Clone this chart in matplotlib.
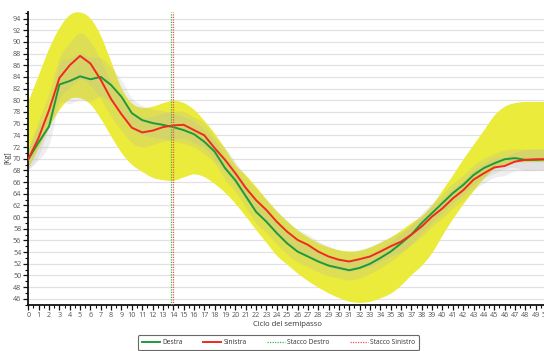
import matplotlib
matplotlib.use("Agg")
import matplotlib.pyplot as plt
import numpy as np
from matplotlib.ticker import MultipleLocator

# ---- data ----
cycle = list(range(0, 51))

destra = [69.9, 72.8, 75.5, 82.7, 83.3, 84.1, 83.6, 84.0, 82.6, 80.6,
          77.8, 76.6, 76.1, 75.8, 75.4, 74.9, 74.2, 72.9, 71.2, 68.4,
          66.3, 63.6, 60.9, 59.2, 57.25, 55.5, 54.1, 53.25, 52.4, 51.7,
          51.3, 50.9, 51.3, 52.0, 53.0, 54.1, 55.5, 57.0, 59.0, 60.7,
          62.4, 64.1, 65.5, 67.2, 68.4, 69.2, 69.9, 70.1, 69.8, 69.8, 69.9]

sinistra = [69.9, 73.6, 78.3, 83.8, 86.0, 87.6, 86.3, 83.5, 80.2, 77.6,
            75.3, 74.5, 74.8, 75.4, 75.7, 75.8, 74.9, 74.0, 71.8, 69.8,
            67.5, 65.0, 62.9, 61.2, 59.2, 57.5, 56.1, 55.25, 54.1, 53.25,
            52.7, 52.4, 52.8, 53.25, 54.1, 55.0, 55.8, 57.0, 58.4, 60.1,
            61.5, 63.2, 64.6, 66.4, 67.5, 68.5, 68.75, 69.5, 69.8, 69.9, 69.9]

norm_upper = [80.0, 84.5, 89.0, 92.5, 94.7, 95.1, 94.0, 91.0, 86.5, 82.0,
              79.5, 78.8, 79.0, 79.6, 80.0, 79.6, 78.4, 76.5, 74.3, 71.7,
              69.0, 67.2, 65.2, 63.0, 61.0, 59.3, 57.8, 56.6, 55.6, 54.9,
              54.4, 54.2, 54.3, 54.9, 55.7, 56.6, 57.8, 59.1, 60.3, 62.2,
              64.7, 67.3, 70.0, 72.5, 75.0, 77.5, 79.0, 79.6, 79.8, 79.8, 79.8]

norm_lower = [68.5, 72.0, 75.5, 78.5, 80.3, 80.4, 79.3, 76.8, 73.8, 71.0,
              69.0, 67.8, 66.8, 66.4, 66.3, 66.9, 67.4, 66.9, 65.7, 64.2,
              62.3, 60.1, 57.8, 55.6, 53.4, 51.9, 50.4, 49.1, 48.0, 47.0,
              46.2, 45.6, 45.4, 45.6, 46.2, 47.0, 48.4, 50.2, 51.8, 54.0,
              57.0, 59.8, 62.3, 64.6, 66.7, 68.3, 69.1, 69.4, 69.5, 69.5, 69.5]

sd_band = [1.8, 3.0, 3.0, 3.5, 3.9, 4.0, 3.8, 3.3, 3.0, 2.8,
           2.6, 2.5, 2.4, 2.4, 2.4, 2.3, 2.2, 2.1, 2.0, 2.0,
           2.0, 2.0, 2.0, 1.9, 1.9, 1.9, 1.8, 1.8, 1.8, 1.8,
           1.7, 1.7, 1.7, 1.7, 1.7, 1.7, 1.7, 1.7, 1.7, 1.7,
           1.7, 1.7, 1.7, 1.7, 1.7, 1.7, 1.6, 1.6, 1.8, 1.8, 1.8]

stacco_destro = 13.8
stacco_sinistro = 14.0


def smooth(xs, ys, n=10):
    """Catmull-Rom curve through the given points (for drawing only)."""
    xs = np.asarray(xs, float)
    ys = np.asarray(ys, float)
    p = np.concatenate([[2 * ys[0] - ys[1]], ys, [2 * ys[-1] - ys[-2]]])
    xo, yo = [], []
    for i in range(len(xs) - 1):
        t = np.linspace(0, 1, n, endpoint=False)
        p0, p1, p2, p3 = p[i], p[i + 1], p[i + 2], p[i + 3]
        y = 0.5 * ((2 * p1) + (-p0 + p2) * t + (2 * p0 - 5 * p1 + 4 * p2 - p3) * t ** 2
                   + (-p0 + 3 * p1 - 3 * p2 + p3) * t ** 3)
        xo.append(xs[i] + t * (xs[i + 1] - xs[i]))
        yo.append(y)
    xo.append([xs[-1]])
    yo.append([ys[-1]])
    return np.concatenate(xo), np.concatenate(yo)


# ---- figure ----
plt.rcParams['font.family'] = ['Open Sans', 'DejaVu Sans']
fig = plt.figure(figsize=(5.44, 3.51), dpi=100)
ax = fig.add_axes([28.3 / 544, 46.3 / 351, (546 - 28.3) / 544, (304.7 - 11.5) / 351])

x = np.array(cycle, dtype=float)
d = np.array(destra)
s = np.array(sinistra)
sd = np.array(sd_band)

xf, up = smooth(x, norm_upper)
_, lo = smooth(x, norm_lower)
ax.fill_between(xf, lo, up, color='#ebeb3b', lw=0, zorder=1)

_, dsm = smooth(x, d)
_, ssm = smooth(x, s)
_, sdsm = smooth(x, sd)
ax.fill_between(xf, dsm - sdsm, dsm + sdsm, color='#b4b4b4', alpha=0.22, lw=0, zorder=2)
ax.fill_between(xf, ssm - sdsm, ssm + sdsm, color='#b4b4b4', alpha=0.22, lw=0, zorder=2)

ax.plot(x, d, color='#1e9a3c', lw=1.4, zorder=4, label='Destra')
ax.plot(x, s, color='#f02a1e', lw=1.4, zorder=4, label='Sinistra')
ax.axvline(stacco_destro, color='#44b844', lw=0.9, ls=(0, (1, 1)), zorder=5, label='Stacco Destro')
ax.axvline(stacco_sinistro, color='#f05050', lw=0.9, ls=(0, (1, 1)), zorder=5, label='Stacco Sinistro')

ax.set_xlim(0, 50)
ax.set_ylim(45, 95.2)

ax.xaxis.set_major_locator(MultipleLocator(1))
ax.xaxis.set_minor_locator(MultipleLocator(0.5))
ax.yaxis.set_minor_locator(MultipleLocator(1))
ax.set_yticks(np.arange(46, 95, 2))

ax.grid(axis='y', which='major', color='#e2e2e2', lw=0.9, zorder=0)
ax.set_axisbelow(True)

for sp in ['top', 'right']:
    ax.spines[sp].set_visible(False)
for sp in ['left', 'bottom']:
    ax.spines[sp].set_color('#111111')
    ax.spines[sp].set_linewidth(1.3)

ax.tick_params(axis='both', which='major', labelsize=5.2, colors='#111111',
               labelcolor='#555555', length=3.5, width=0.9, pad=1.5)
ax.tick_params(axis='both', which='minor', colors='#111111', length=2, width=0.8)

ax.set_xlabel('Ciclo del semipasso', fontsize=5.5, color='#333333', labelpad=2)
ax.set_ylabel('[Kg]', fontsize=5, color='#333333', labelpad=1)

leg = fig.legend(loc='upper center', bbox_to_anchor=(278.5 / 544, 1 - 332 / 351),
                 ncol=4, fontsize=4.8, frameon=True, fancybox=True,
                 edgecolor='#444444', handlelength=2.7, columnspacing=3.0,
                 borderpad=0.6, handletextpad=0.4)
leg.get_frame().set_linewidth(0.8)
for t in leg.get_texts():
    t.set_color('#333333')

fig.savefig('out.png', dpi=100)
